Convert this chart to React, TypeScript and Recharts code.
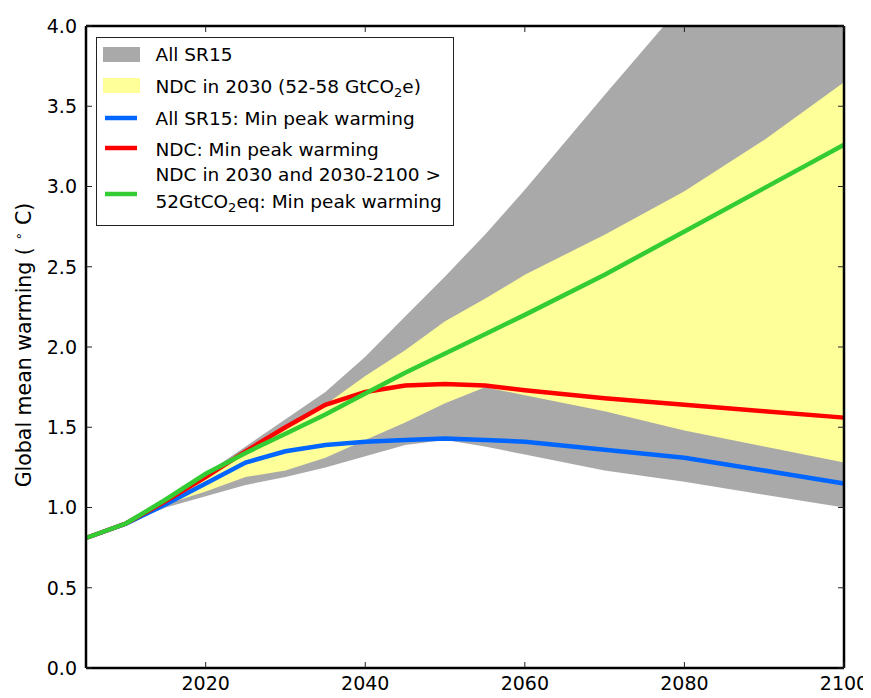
import React from 'react';
import { ComposedChart, Area, Line, XAxis, YAxis, ReferenceLine, Legend } from 'recharts';

// Scenario years and warming (°C)
const years = [2005, 2010, 2015, 2020, 2025, 2030, 2035, 2040, 2045, 2050, 2055, 2060, 2070, 2080, 2090, 2100];

// Envelope of all SR15 pathways
const sr15Low = [0.81, 0.9, 1.0, 1.07, 1.14, 1.19, 1.25, 1.32, 1.39, 1.42, 1.38, 1.33, 1.23, 1.16, 1.08, 1.0];
const sr15High = [0.81, 0.9, 1.05, 1.21, 1.38, 1.55, 1.72, 1.94, 2.19, 2.44, 2.7, 2.98, 3.57, 4.15, 4.7, 5.25];

// Envelope of pathways meeting NDC levels in 2030 (52-58 GtCO2e)
const ndcLow = [0.81, 0.9, 1.02, 1.1, 1.19, 1.23, 1.31, 1.42, 1.53, 1.65, 1.75, 1.7, 1.6, 1.48, 1.38, 1.28];
const ndcHigh = [0.81, 0.9, 1.05, 1.2, 1.36, 1.5, 1.64, 1.82, 1.98, 2.16, 2.3, 2.45, 2.7, 2.97, 3.29, 3.65];

// Minimum peak warming pathways
const sr15Min = [0.81, 0.9, 1.02, 1.15, 1.28, 1.35, 1.39, 1.41, 1.42, 1.43, 1.42, 1.41, 1.36, 1.31, 1.23, 1.15];
const ndcMin = [0.81, 0.9, 1.04, 1.19, 1.35, 1.5, 1.64, 1.72, 1.76, 1.77, 1.76, 1.73, 1.68, 1.64, 1.6, 1.56];
const ndc52Min = [0.81, 0.9, 1.05, 1.21, 1.34, 1.46, 1.58, 1.71, 1.84, 1.96, 2.08, 2.2, 2.45, 2.72, 2.99, 3.26];

const xTicks = [2020, 2040, 2060, 2080, 2100];
const yTicks = [0, 0.5, 1, 1.5, 2, 2.5, 3, 3.5, 4];

const GRAY = '#a9a9a9';
const YELLOW = '#ffff99';
const BLUE = '#0066ff';
const RED = '#ff0000';
const GREEN = '#33cc33';
const FONT = '"DejaVu Sans", sans-serif';

const W = 863;
const H = 690;
const PLOT = { left: 78, top: 18, right: 836, bottom: 660 };

const data = years.map((year, i) => ({
  year,
  sr15: [sr15Low[i], sr15High[i]],
  ndc: [ndcLow[i], ndcHigh[i]],
  sr15Min: sr15Min[i],
  ndcMin: ndcMin[i],
  ndc52Min: ndc52Min[i],
}));

// matplotlib-style inward ticks on both bottom and top spines
const XTick = (props: any) => {
  const { x, y, payload } = props;
  return (
    <g>
      <line x1={x} x2={x} y1={PLOT.bottom} y2={PLOT.bottom - 6} stroke="#222" strokeWidth={1} />
      <line x1={x} x2={x} y1={PLOT.top} y2={PLOT.top + 6} stroke="#222" strokeWidth={1} />
      <text x={x} y={y} dy="0.71em" textAnchor="middle" fontSize={19} fontFamily={FONT} fill="#000">
        {payload.value}
      </text>
    </g>
  );
};

const YTick = (props: any) => {
  const { x, y, payload } = props;
  return (
    <g>
      <line x1={PLOT.left} x2={PLOT.left + 6} y1={y} y2={y} stroke="#222" strokeWidth={1} />
      <line x1={PLOT.right - 6} x2={PLOT.right} y1={y} y2={y} stroke="#222" strokeWidth={1} />
      <text x={x} y={y} dy="0.36em" textAnchor="end" fontSize={19} fontFamily={FONT} fill="#000">
        {Number(payload.value).toFixed(1)}
      </text>
    </g>
  );
};

const YLabel = () => {
  const cy = (PLOT.top + PLOT.bottom) / 2 - 2;
  return (
    <text
      x={23}
      y={cy}
      transform={`rotate(-90, 23, ${cy})`}
      textAnchor="middle"
      fontSize={20.5}
      fontFamily={FONT}
      fill="#000"
    >
      Global mean warming (
      <tspan fontSize={13} dx={7} dy={-8}>∘</tspan>
      <tspan dx={7} dy={8}>C)</tspan>
    </text>
  );
};

const LegendBox = () => {
  const tx = 59.5;
  const textProps = { x: tx, fontSize: 18.5, fontFamily: FONT, fill: '#000' };
  return (
    <svg width={358} height={189} style={{ display: 'block' }}>
      <rect x={0.5} y={0.5} width={357} height={188} fill="#fff" stroke="#222" strokeWidth={1} />
      <rect x={7} y={10} width={37} height={15} fill={GRAY} />
      <rect x={7} y={41} width={37} height={15} fill={YELLOW} />
      <line x1={9} x2={41} y1={81} y2={81} stroke={BLUE} strokeWidth={4.5} />
      <line x1={9} x2={41} y1={111} y2={111} stroke={RED} strokeWidth={4.5} />
      <line x1={9} x2={41} y1={157} y2={157} stroke={GREEN} strokeWidth={4.5} />
      <text {...textProps} y={24}>All SR15</text>
      <text {...textProps} y={56}>
        NDC in 2030 (52-58 GtCO<tspan fontSize={13} dy={4}>2</tspan>
        <tspan dy={-4}>e)</tspan>
      </text>
      <text {...textProps} y={88}>All SR15: Min peak warming</text>
      <text {...textProps} y={119}>NDC: Min peak warming</text>
      <text {...textProps} y={144}>NDC in 2030 and 2030-2100 &gt;</text>
      <text {...textProps} y={171}>
        52GtCO<tspan fontSize={13} dy={4}>2</tspan>
        <tspan dy={-4}>eq: Min peak warming</tspan>
      </text>
    </svg>
  );
};

export default function App() {
  // negative bottom margin keeps the page from growing a scrollbar
  return (
    <div style={{ width: W, height: H, background: '#fff', marginBottom: -8 }}>
      <ComposedChart
        width={W}
        height={H}
        data={data}
        margin={{ top: PLOT.top, right: W - PLOT.right, bottom: 0, left: 0 }}
      >
        <Area
          type="linear"
          dataKey="sr15"
          fill={GRAY}
          fillOpacity={1}
          stroke="none"
          isAnimationActive={false}
        />
        <Area
          type="linear"
          dataKey="ndc"
          fill={YELLOW}
          fillOpacity={1}
          stroke="none"
          isAnimationActive={false}
        />
        <Line type="linear" dataKey="sr15Min" stroke={BLUE} strokeWidth={4.5} dot={false} isAnimationActive={false} />
        <Line type="linear" dataKey="ndcMin" stroke={RED} strokeWidth={4.5} dot={false} isAnimationActive={false} />
        <Line type="linear" dataKey="ndc52Min" stroke={GREEN} strokeWidth={4.5} dot={false} isAnimationActive={false} />
        <XAxis
          type="number"
          dataKey="year"
          domain={[2005, 2100]}
          ticks={xTicks}
          height={H - PLOT.bottom}
          tickSize={0}
          tickMargin={9}
          tick={<XTick />}
          axisLine={{ stroke: '#000', strokeWidth: 2.5 }}
          interval={0}
        />
        <YAxis
          type="number"
          domain={[0, 4]}
          allowDataOverflow
          ticks={yTicks}
          width={PLOT.left}
          tickSize={0}
          tickMargin={9}
          tick={<YTick />}
          axisLine={{ stroke: '#000', strokeWidth: 2.5 }}
          interval={0}
          label={<YLabel />}
        />
        <ReferenceLine y={4} stroke="#000" strokeWidth={2.5} />
        <ReferenceLine x={2100} stroke="#000" strokeWidth={2.5} />
        <Legend
          layout="horizontal"
          verticalAlign="middle"
          align="center"
          content={<LegendBox />}
          wrapperStyle={{ left: 88, top: 29, width: 358, height: 189 }}
        />
      </ComposedChart>
    </div>
  );
}
